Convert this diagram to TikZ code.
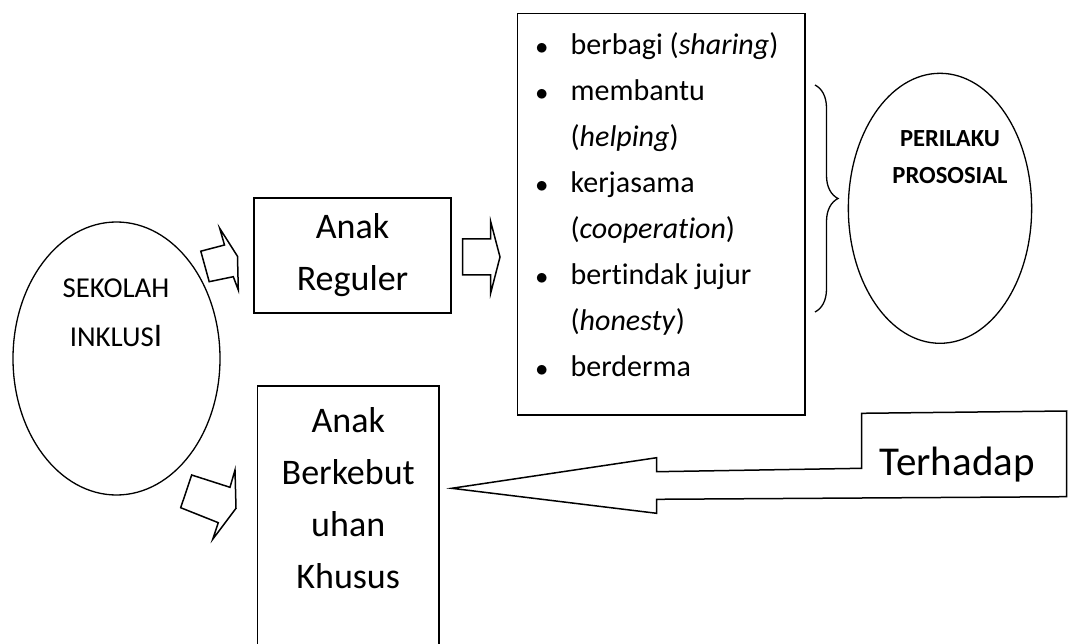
\documentclass[tikz,border=0pt]{standalone}
\usepackage{fontspec}
\setmainfont[Ligatures=NoCommon]{Carlito}
\usepackage{tikz}
\usetikzlibrary{shapes.geometric, decorations.pathreplacing}

\begin{document}
\begin{tikzpicture}[x=1pt, y=-1pt,
  kotak/.style={draw, line width=1.6pt, inner sep=0pt},
  bulat/.style={draw, ellipse, line width=1.3pt, inner sep=0pt},
  panah/.style={draw, line width=1.5pt, line join=miter},
  tulisan/.style={inner sep=0pt, align=center},
  besar/.style={tulisan, text width=180pt, font=\fontsize{36}{52}\selectfont}]

  \useasboundingbox (0,0) rectangle (1068,644);
  \clip (0,0) rectangle (1068,644);

  \node[bulat, minimum width=207pt, minimum height=273pt] (sekolah) at (116.5,358.5) {};
  \node[tulisan, anchor=base, text width=150pt, font=\fontsize{28.8}{49}\selectfont] (sekolahteks) at (116,298) {SEKOLAH\\INKLUS{\fontsize{33}{49}\selectfont I}};

  \node[kotak, besar, minimum width=197pt, minimum height=115pt] (reguler) at (352.5,255.5) {Anak\\Reguler};

  \node[kotak, minimum width=181.7pt, minimum height=300pt, anchor=north] (khusus) at (348.2,385) {};
  \node[besar, anchor=base] (khususteks) at (348.2,432) {Anak\\Berkebut\\uhan\\Khusus};

  \node[kotak, minimum width=287.5pt, minimum height=401.7pt] (daftar) at (661.25,214.2) {};
  \node[inner sep=0pt, anchor=base west, font=\fontsize{30}{46}\selectfont] (daftarteks) at (535.5,55) {%
    \begin{tabular}[t]{@{}c@{\hspace{22.5pt}}l@{}}
      $\bullet$ & berbagi (\textit{sharing})\\
      $\bullet$ & membantu\\
                & (\textit{helping})\\
      $\bullet$ & kerjasama\\
                & (\textit{cooperation})\\
      $\bullet$ & bertindak jujur\\
                & (\textit{honesty})\\
      $\bullet$ & berderma
    \end{tabular}};

  \draw[line width=1.3pt, decorate, decoration={brace, amplitude=23pt}] (815,85) -- (815,312);

  \node[bulat, minimum width=183.3pt, minimum height=270pt] (perilaku) at (940,208.3) {};
  \node[tulisan, anchor=base, text width=160pt, font=\bfseries\fontsize{24.6}{36.7}\selectfont] (perilakuteks) at (950,146.7) {PERILAKU\\PROSOSIAL};

  \draw[panah] (219.7,228.3) -- (237.5,256.3) -- (238.3,290) -- (233.3,276.7) -- (209.2,281.7) -- (200.8,251.2) -- (224.5,245) -- cycle;
  \draw[panah] (462.7,239) -- (490.7,239) -- (490.7,221.7) -- (500,257) -- (490.7,293) -- (490.7,275) -- (462.7,275) -- cycle;
  \draw[panah] (235,470) -- (236,508.3) -- (212.7,539.3) -- (218.3,522.7) -- (180.7,507.7) -- (191.7,475) -- (230,487.3) -- cycle;

  \draw[panah] (451.7,488.3) -- (656.7,457.7) -- (656.7,471.7) -- (861.7,468.3) -- (861.7,413.3) -- (1066.7,411) -- (1066.7,496.7) -- (656.7,499.3) -- (656.7,513.3) -- cycle;
  \node[tulisan, anchor=base, font=\fontsize{41}{50}\selectfont] (terhadap) at (957.3,475) {Terhadap};
\end{tikzpicture}
\end{document}
